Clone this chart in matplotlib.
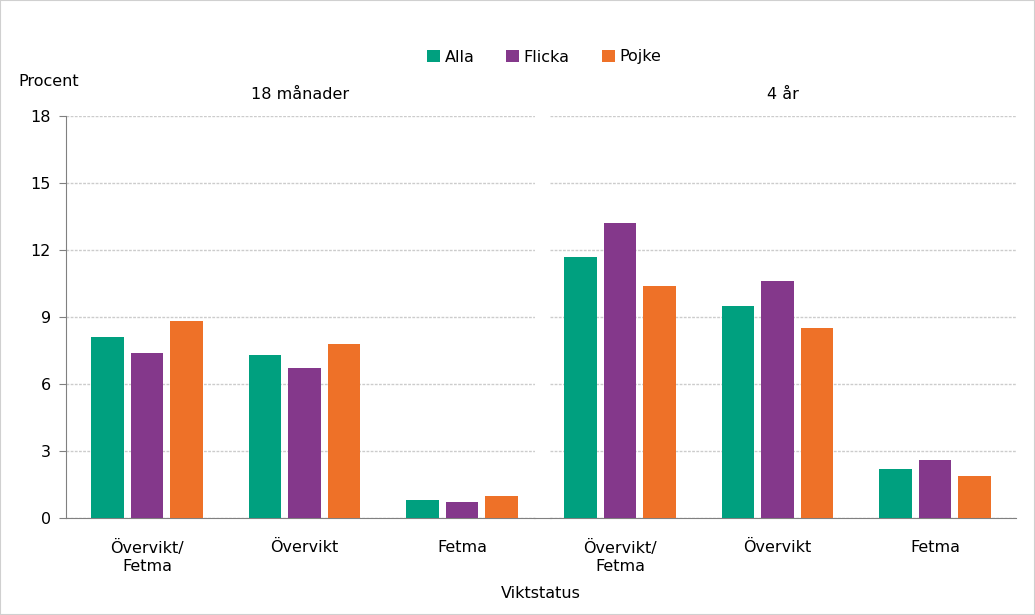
import matplotlib.pyplot as plt
import numpy as np
from matplotlib.patches import Rectangle
from matplotlib.lines import Line2D

categories = ['Övervikt/\nFetma', 'Övervikt', 'Fetma']
panels = ['18 månader', '4 år']
series = ['Alla', 'Flicka', 'Pojke']
colors = ['#00A07F', '#84388B', '#EE7128']

# values per panel, per series
alla = [[8.1, 7.3, 0.8], [11.7, 9.5, 2.2]]
flicka = [[7.4, 6.7, 0.7], [13.2, 10.6, 2.6]]
pojke = [[8.8, 7.8, 1.0], [10.4, 8.5, 1.9]]
data = [alla, flicka, pojke]

W, H = 1035, 615
fig = plt.figure(figsize=(W / 100, H / 100), dpi=100)
plt.rcParams['font.family'] = 'DejaVu Sans'
fs = 11.5

def px(x0, x1, y0, y1):
    return [x0 / W, 1 - y1 / H, (x1 - x0) / W, (y1 - y0) / H]

ax1 = fig.add_axes(px(66, 535, 116, 518))
ax2 = fig.add_axes(px(550, 1016, 116, 518))

x = np.arange(len(categories))
off = 0.25
bw = 0.205
unit = 157.5
for i, ax in enumerate([ax1, ax2]):
    for s in range(3):
        ax.bar(x + (s - 1) * off, data[s][i], width=bw, color=colors[s],
               label=series[s], zorder=3)
    ax.set_ylim(0, 18)
    ax.set_yticks([0, 3, 6, 9, 12, 15, 18])
    ax.grid(axis='y', color='#cccccc', linestyle=(0, (2, 1)), linewidth=1.0, zorder=0)
    ax.set_xticks(x)
    ax.set_xticklabels(categories, fontsize=fs, linespacing=1.2)
    ax.tick_params(axis='x', length=0, pad=16)
    for sp in ['top', 'right']:
        ax.spines[sp].set_visible(False)
    ax.spines['bottom'].set_color('#808080')
    ax.text(0.5, 1.035, panels[i], transform=ax.transAxes, ha='center',
            va='bottom', fontsize=fs)

ax1.set_xlim((66 - 147) / unit, (535 - 147) / unit)
ax2.set_xlim((550 - 620) / unit, (1016 - 620) / unit)
ax1.texts[0].set_x(((300 - 66) / (535 - 66)))
ax2.texts[0].set_x(((783 - 550) / (1016 - 550)))

ax1.spines['left'].set_color('#808080')
ax1.tick_params(axis='y', length=5, color='#808080', labelsize=fs, pad=6)
ax2.spines['left'].set_visible(False)
ax2.tick_params(axis='y', length=0, labelleft=False)

# continuous baseline between panels
fig.add_artist(Line2D([534 / W, 551 / W], [1 - 518 / H] * 2, color='#808080', linewidth=0.8))

fig.text(18 / W, 1 - 81 / H, 'Procent', fontsize=fs, va='center', ha='left')
fig.text(541 / W, 1 - 594 / H, 'Viktstatus', fontsize=fs, va='center', ha='center')

handles, labels = ax1.get_legend_handles_labels()
fig.legend(handles, labels, loc='center', bbox_to_anchor=(544 / W, 1 - 57 / H),
           ncol=3, frameon=False, fontsize=fs, handlelength=0.8, handleheight=0.8,
           handletextpad=0.3, columnspacing=2.0)

fig.add_artist(Rectangle((0, 0), 1, 1, transform=fig.transFigure, fill=False,
                         edgecolor='#d0d0d0', linewidth=1.5))

fig.savefig('out.png', dpi=100)
